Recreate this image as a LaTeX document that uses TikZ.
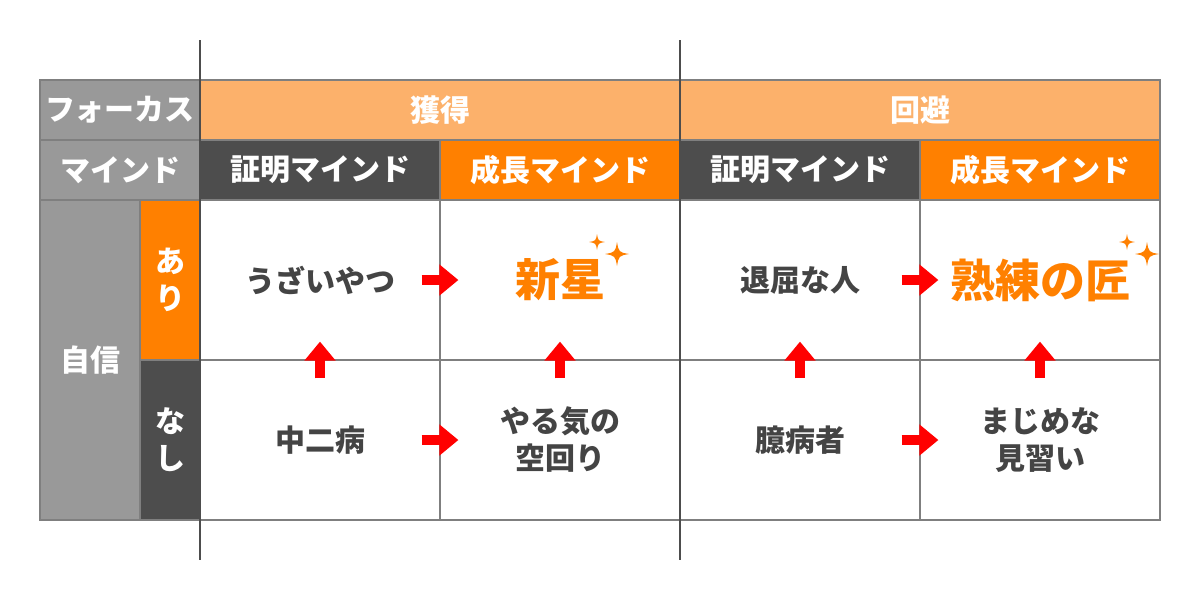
\documentclass[tikz,border=0pt]{standalone}
\usepackage{fontspec}
\usepackage{tikz}
\usetikzlibrary{arrows.meta}
\newfontfamily\cjk{Noto Sans CJK JP}
\definecolor{hdrgray}{HTML}{999999}
\definecolor{hdrdark}{HTML}{4D4D4D}
\definecolor{hdrorange}{HTML}{FF8000}
\definecolor{hdrlight}{HTML}{FCB16B}
\definecolor{txtgray}{HTML}{444444}
\definecolor{linegray}{HTML}{7F7F7F}
\definecolor{arrowred}{HTML}{FF0000}

\begin{document}
\begin{tikzpicture}
	[
	x=1pt, y=-1pt,
	font=\cjk\bfseries\fontsize{30pt}{37pt}\selectfont,
	cell/.style={draw=linegray, line width=1.2pt, inner sep=0pt, align=center, text=txtgray, fill=white},
	hdr/.style={cell, text=white},
	bigtext/.style={cell, text=hdrorange, font=\cjk\bfseries\fontsize{45pt}{50pt}\selectfont},
	go/.style={draw=arrowred, line width=10pt, -{Triangle[length=19pt, width=30pt]}},
	sparkle/.pic={\fill[hdrorange] (0,1) .. controls (0.15,0.15) .. (1,0) .. controls (0.15,-0.15) .. (0,-1) .. controls (-0.15,-0.15) .. (-1,0) .. controls (-0.15,0.15) .. cycle;},
	]
		\useasboundingbox (0,0) rectangle (1200,600);
		
		% focus row
		\node[hdr, fill=hdrgray,  minimum width=160pt, minimum height=60pt] (focus) at ( 120, 110) {フォーカス};
		\node[hdr, fill=hdrlight, minimum width=480pt, minimum height=60pt] (gain)  at ( 440, 110) {獲得};
		\node[hdr, fill=hdrlight, minimum width=480pt, minimum height=60pt] (avoid) at ( 920, 110) {回避};
		
		% mind row
		\node[hdr, fill=hdrgray,   minimum width=160pt, minimum height=60pt] (mind)   at ( 120, 170) {マインド};
		\node[hdr, fill=hdrdark,   minimum width=240pt, minimum height=60pt] (gprove) at ( 320, 170) {証明マインド};
		\node[hdr, fill=hdrorange, minimum width=240pt, minimum height=60pt] (ggrow)  at ( 560, 170) {成長マインド};
		\node[hdr, fill=hdrdark,   minimum width=240pt, minimum height=60pt] (aprove) at ( 800, 170) {証明マインド};
		\node[hdr, fill=hdrorange, minimum width=240pt, minimum height=60pt] (agrow)  at (1040, 170) {成長マインド};
		
		% confidence
		\node[hdr, fill=hdrgray,   minimum width=100pt, minimum height=320pt] (conf) at (  90, 360) {自信};
		\node[hdr, fill=hdrorange, minimum width=60pt,  minimum height=160pt] (yes)  at ( 170, 280) {あ\\り};
		\node[hdr, fill=hdrdark,   minimum width=60pt,  minimum height=160pt] (no)   at ( 170, 440) {な\\し};
		
		% gain side
		\node[cell,    minimum width=240pt, minimum height=160pt] (g11) at ( 320, 280) {うざいやつ};
		\node[bigtext, minimum width=240pt, minimum height=160pt] (g12) at ( 560, 280) {新星};
		\node[cell,    minimum width=240pt, minimum height=160pt] (g21) at ( 320, 440) {中二病};
		\node[cell,    minimum width=240pt, minimum height=160pt] (g22) at ( 560, 440) {やる気の\\空回り};
		
		% avoid side
		\node[cell,    minimum width=240pt, minimum height=160pt] (a11) at ( 800, 280) {退屈な人};
		\node[bigtext, minimum width=240pt, minimum height=160pt] (a12) at (1040, 280) {熟練の匠};
		\node[cell,    minimum width=240pt, minimum height=160pt] (a21) at ( 800, 440) {臆病者};
		\node[cell,    minimum width=240pt, minimum height=160pt] (a22) at (1040, 440) {まじめな\\見習い};
		
		% dividers
		\draw[hdrdark, line width=2.5pt] (200,40) -- (200,560);
		\draw[hdrdark, line width=2.5pt] (680,40) -- (680,560);
		
		% sparkles
		\pic[scale=8]  at ( 597, 242) {sparkle};
		\pic[scale=12] at ( 617, 254) {sparkle};
		\pic[scale=8]  at (1127, 242) {sparkle};
		\pic[scale=12] at (1147, 254) {sparkle};
		
		\foreach \from/\to in {g11/g12,g21/g22,a11/a12,a21/a22} \draw[go] ([xshift=-19pt]\from.east) -- ([xshift=19pt]\to.west);
		\foreach \from/\to in {g21/g11,g22/g12,a21/a11,a22/a12} \draw[go] ([yshift=-19pt]\from.north) -- ([yshift=19pt]\to.south);
		
	\end{tikzpicture}
\end{document}
